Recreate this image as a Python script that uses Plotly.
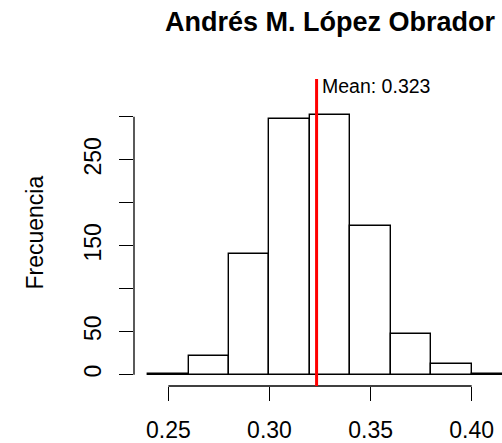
import plotly.graph_objects as go

# Data
bin_edges = [0.24, 0.26, 0.28, 0.30, 0.32, 0.34, 0.36, 0.38, 0.40, 0.42]
counts = [1, 22, 140, 298, 302, 173, 47, 12, 1]
mean_value = 0.3233
x_tick_vals = [0.25, 0.30, 0.35, 0.40]
x_tick_text = ["0.25", "0.30", "0.35", "0.40"]
y_tick_vals = [0, 50, 100, 150, 200, 250, 300]
y_tick_text = ["0", "50", "", "150", "", "250", ""]
title_text = "Andrés M. López Obrador"
y_title = "Frecuencia"

centers = [(bin_edges[i] + bin_edges[i + 1]) / 2 for i in range(len(counts))]
widths = [bin_edges[i + 1] - bin_edges[i] for i in range(len(counts))]

FONT = "Liberation Sans, Arial, Helvetica, sans-serif"
W, H = 502, 443
L, R, T, B = 134, 0, 79, 57

fig = go.Figure()
fig.add_trace(go.Bar(
    x=centers, y=counts, width=widths,
    marker=dict(color="white", line=dict(color="black", width=1.4)),
    hoverinfo="x+y",
))

# R-style axis lines spanning only the tick range
fig.add_shape(type="line", xref="x", yref="paper", x0=x_tick_vals[0], x1=x_tick_vals[-1],
              y0=0, y1=0, line=dict(color="black", width=1.3))
fig.add_shape(type="line", xref="paper", yref="y", x0=0, x1=0,
              y0=y_tick_vals[0], y1=y_tick_vals[-1], line=dict(color="black", width=1.3))

# Mean line
fig.add_shape(type="line", xref="x", yref="paper", x0=mean_value, x1=mean_value,
              y0=0, y1=1, line=dict(color="#ff0000", width=3))
fig.add_annotation(xref="x", yref="paper", x=mean_value, y=1, xanchor="left", yanchor="middle",
                   xshift=3, yshift=-7, showarrow=False,
                   text=f"Mean: {mean_value:.3f}", font=dict(family=FONT, size=19.5, color="black"))

# Y axis title
fig.add_annotation(xref="paper", yref="paper", x=(34 - L) / (W - L - R), y=0.5,
                   xanchor="center", yanchor="middle", textangle=-90, showarrow=False,
                   text=y_title, font=dict(family=FONT, size=23, color="black"))

fig.update_layout(
    width=W, height=H,
    margin=dict(l=L, r=R, t=T, b=B, pad=0),
    plot_bgcolor="white", paper_bgcolor="white",
    showlegend=False,
    bargap=0,
    title=dict(text=f"<b>{title_text}</b>", xref="container", yref="container",
               x=330 / W, y=1 - 22 / H, xanchor="center", yanchor="middle",
               font=dict(family=FONT, size=27, color="black")),
    font=dict(family=FONT, size=23, color="black"),
    xaxis=dict(range=[0.2330, 0.4150], showgrid=False, zeroline=False, showline=False,
               tickmode="array", tickvals=x_tick_vals, ticktext=x_tick_text,
               ticks="outside", ticklen=14, tickwidth=1.3, tickcolor="black",
               tickfont=dict(family=FONT, size=23, color="black"),
               ticklabelstandoff=9),
    yaxis=dict(range=[-13.2, 344], showgrid=False, zeroline=False, showline=False,
               tickmode="array", tickvals=y_tick_vals, ticktext=y_tick_text,
               ticks="outside", ticklen=14, tickwidth=1.3, tickcolor="black",
               tickangle=-90,
               tickfont=dict(family=FONT, size=23, color="black"),
               ticklabelstandoff=9),
)

fig.write_html("out.html")
